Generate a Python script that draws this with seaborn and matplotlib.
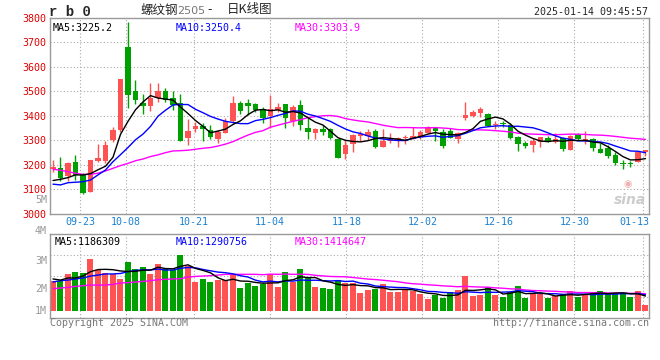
import matplotlib
matplotlib.use("Agg")
import matplotlib.pyplot as plt
import matplotlib.transforms as mtransforms
import numpy as np
import pandas as pd
import seaborn as sns

# daily K data, rb2505, 2024-09-13 .. 2025-01-14 (80 sessions)
open_ = [3181, 3185, 3155, 3212, 3160, 3090, 3215, 3216, 3301, 3342,
         3681, 3501, 3453, 3440, 3471, 3501, 3474, 3451, 3308, 3346,
         3358, 3342, 3305, 3331, 3378, 3453, 3453, 3447, 3428, 3399,
         3423, 3447, 3378, 3444, 3349, 3331, 3344, 3346, 3305, 3242,
         3283, 3317, 3319, 3338, 3274, 3298, 3297, 3310, 3305, 3314,
         3331, 3353, 3332, 3339, 3304, 3389, 3400, 3413, 3407, 3362,
         3372, 3362, 3314, 3290, 3280, 3291, 3310, 3294, 3310, 3260,
         3325, 3301, 3305, 3264, 3267, 3240, 3206, 3208, 3212, 3250]
close = [3192, 3147, 3208, 3158, 3083, 3219, 3227, 3280, 3342, 3551,
         3485, 3464, 3441, 3471, 3501, 3464, 3444, 3298, 3339, 3358,
         3344, 3314, 3332, 3378, 3453, 3419, 3441, 3423, 3392, 3428,
         3437, 3392, 3437, 3362, 3332, 3344, 3335, 3310, 3229, 3280,
         3321, 3325, 3335, 3274, 3298, 3305, 3308, 3312, 3317, 3335,
         3353, 3339, 3278, 3310, 3328, 3403, 3417, 3428, 3359, 3365,
         3366, 3310, 3284, 3278, 3297, 3314, 3298, 3305, 3264, 3319,
         3305, 3305, 3269, 3249, 3237, 3208, 3201, 3201, 3253, 3260]
high = [3219, 3233, 3212, 3240, 3167, 3219, 3284, 3297, 3353, 3551,
        3785, 3546, 3489, 3532, 3532, 3515, 3501, 3489, 3385, 3376,
        3369, 3362, 3342, 3389, 3481, 3462, 3468, 3451, 3437, 3485,
        3451, 3447, 3444, 3464, 3389, 3351, 3362, 3349, 3305, 3301,
        3324, 3338, 3346, 3346, 3346, 3328, 3314, 3321, 3353, 3342,
        3358, 3355, 3346, 3349, 3332, 3455, 3423, 3436, 3412, 3378,
        3378, 3369, 3319, 3297, 3310, 3314, 3319, 3328, 3314, 3321,
        3331, 3338, 3308, 3290, 3280, 3253, 3219, 3216, 3253, 3260]
low = [3171, 3135, 3135, 3137, 3079, 3086, 3212, 3205, 3294, 3335,
       3433, 3447, 3406, 3421, 3455, 3455, 3423, 3298, 3280, 3335,
       3297, 3305, 3287, 3328, 3369, 3406, 3403, 3417, 3369, 3349,
       3414, 3351, 3359, 3342, 3305, 3305, 3321, 3305, 3229, 3223,
       3253, 3298, 3301, 3267, 3274, 3287, 3274, 3283, 3304, 3305,
       3328, 3297, 3267, 3308, 3287, 3383, 3393, 3396, 3358, 3346,
       3355, 3305, 3256, 3269, 3253, 3274, 3291, 3287, 3256, 3260,
       3301, 3283, 3256, 3249, 3229, 3199, 3182, 3189, 3210, 3237]
# volume, million lots
volume = [2.46, 2.46, 3.01, 3.17, 3.11, 4.23, 3.33, 3.11, 3.01, 2.60,
          3.99, 3.42, 3.58, 3.01, 3.83, 3.42, 3.33, 4.56, 3.66, 2.35,
          2.60, 2.35, 2.51, 2.51, 2.92, 1.86, 2.27, 2.02, 2.19, 3.01,
          1.94, 3.17, 2.35, 3.42, 2.68, 1.94, 1.86, 1.78, 2.51, 2.27,
          2.27, 1.45, 1.69, 1.78, 2.19, 1.53, 1.53, 1.69, 1.61, 1.37,
          0.96, 1.28, 1.04, 1.53, 1.69, 2.84, 1.20, 1.28, 1.94, 1.28,
          1.12, 1.53, 2.02, 1.04, 1.37, 1.37, 1.04, 1.20, 1.37, 1.61,
          1.12, 1.37, 1.53, 1.61, 1.37, 1.37, 1.45, 1.12, 1.61, 0.46]

# moving averages before the window fills
ma5_head = [3135, 3140, 3147, 3158]
ma10_head = [3120, 3117, 3126, 3128, 3130, 3137, 3158, 3178, 3212]
ma30_head = [3181, 3177, 3171, 3165, 3160, 3160, 3165, 3174, 3185, 3196,
             3205, 3216, 3223, 3233, 3240, 3249, 3256, 3257, 3259, 3263,
             3267, 3270, 3276, 3284, 3294, 3308, 3321, 3332, 3339]
vma5_head = [2.60, 2.51, 2.68, 2.68]
vma10_head = [2.35, 2.46, 2.51, 2.60, 2.68, 2.84, 2.92, 3.01, 3.01]
vma30_head = [1.80, 1.86, 1.91, 1.99, 2.05, 2.10, 2.10, 2.10, 2.16, 2.27,
              2.30, 2.35, 2.40, 2.46, 2.54, 2.57, 2.60, 2.62, 2.76, 2.81,
              2.84, 2.87, 2.92, 2.98, 2.98, 2.98, 2.98, 2.98, 2.95]

date_labels = ['09-23', '10-08', '10-21', '11-04', '11-18',
               '12-02', '12-16', '12-30', '01-13']
date_index = [4, 10, 19, 29, 39, 49, 59, 69, 78]

RED = '#ff5252'
GREEN = '#00a000'
GRID = '#aaaaaa'
FRAME = '#999999'
MONO = 'DejaVu Sans Mono'
FS = 7.2


def moving_avg(values, n, head):
    "rolling mean, warm-up part taken from the chart"
    s = pd.Series(values, dtype=float).rolling(n).mean()
    s.iloc[:len(head)] = head
    return s


def fx(px):
    return px / 660


def fy(py):
    return 1 - py / 360


def frame(ax):
    for s in ['top', 'bottom', 'left', 'right']:
        ax.spines[s].set_visible(True)
        ax.spines[s].set_color(FRAME)
        ax.spines[s].set_linewidth(1)
    ax.tick_params(length=0)


sns.set_style('white')
plt.rcParams['font.family'] = ['DejaVu Sans', 'Noto Sans CJK SC']

df = pd.DataFrame({'open': open_, 'close': close, 'high': high, 'low': low,
                   'vol': np.array(volume) * 1e6})
df['x'] = np.arange(len(df))
df['up'] = df['close'] >= df['open']
df['color'] = np.where(df['up'], RED, GREEN)
df['ma5'] = moving_avg(close, 5, ma5_head)
df['ma10'] = moving_avg(close, 10, ma10_head)
df['ma30'] = moving_avg(close, 30, ma30_head)
df['vma5'] = moving_avg(volume, 5, vma5_head) * 1e6
df['vma10'] = moving_avg(volume, 10, vma10_head) * 1e6
df['vma30'] = moving_avg(volume, 30, vma30_head) * 1e6

# sina's date grid drifts slightly against the candle spacing
grid_x = [1.0135 * k - 0.42 for k in date_index]
xlim = (-0.4, 79.47)

fig = plt.figure(figsize=(6.6, 3.6), dpi=100)
fig.patch.set_facecolor('white')

# ---- price panel
ax = fig.add_axes([fx(50), fy(213.5), 599 / 660, (213.5 - 18) / 360])
frame(ax)
ax.set_xlim(*xlim)
ax.set_ylim(3000, 3800)
for y in range(3100, 3800, 100):
    ax.axhline(y, color=GRID, lw=0.8, ls=(0, (1, 2)), zorder=0)
for gx in grid_x:
    ax.axvline(gx, color=GRID, lw=0.8, ls=(0, (1, 2)), zorder=0)

ax.vlines(df['x'], df['low'], df['high'], colors=df['color'], lw=1, zorder=2)
body = (df['close'] - df['open']).abs().clip(lower=3)
ax.bar(df['x'], body, bottom=df[['open', 'close']].min(axis=1), width=0.74,
       color=df['color'], linewidth=0, zorder=3)

for col, c in [('ma30', '#ff00ff'), ('ma10', '#0000ff'), ('ma5', '#000000')]:
    sns.lineplot(data=df, x='x', y=col, color=c, lw=1, ax=ax, zorder=4)

ax.set_yticks(range(3000, 3801, 100))
ax.set_yticklabels([str(v) for v in range(3000, 3801, 100)],
                   color='#e00000', family=MONO, fontsize=FS)
ax.tick_params(axis='y', pad=3)
ax.set_xticks([])
ax.set_xlabel('')
ax.set_ylabel('')

ax.text(0.005, 0.972, 'MA5:3225.2', transform=ax.transAxes, color='black',
        family=MONO, fontsize=FS, va='top')
ax.text(0.209, 0.972, 'MA10:3250.4', transform=ax.transAxes, color='#0000ff',
        family=MONO, fontsize=FS, va='top')
ax.text(0.409, 0.972, 'MA30:3303.9', transform=ax.transAxes, color='#ff00ff',
        family=MONO, fontsize=FS, va='top')
# watermark
ax.text(0.995, 0.07, 'sina', transform=ax.transAxes, color='#cccccc',
        fontsize=10, style='italic', weight='bold', ha='right', va='center')
ax.text(0.965, 0.15, '◉', transform=ax.transAxes, color='#f0b0b0',
        fontsize=7, ha='center', va='center')

trans = mtransforms.blended_transform_factory(ax.transData, fig.transFigure)
for gx, lab in zip(grid_x, date_labels):
    ax.text(min(gx, xlim[1] - 2.0), fy(221.7), lab, transform=trans,
            color='#1a80d0', family=MONO, fontsize=FS, ha='center', va='center')

# ---- volume panel
vax = fig.add_axes([fx(50), fy(317.7), 599 / 660, (317.7 - 234.3) / 360])
frame(vax)
vax.set_xlim(*xlim)
vlo, vhi = -0.574e6, 6.26e6
vax.set_ylim(vlo, vhi)
for f in [0.25, 0.5, 0.75]:
    vax.axhline(vlo + f * (vhi - vlo), color=GRID, lw=0.8, ls=(0, (1, 2)), zorder=0)
for gx in grid_x:
    vax.axvline(gx, color=GRID, lw=0.8, ls=(0, (1, 2)), zorder=0)
vax.bar(df['x'], df['vol'], width=0.8, color=df['color'], linewidth=0, zorder=2)
for col, c in [('vma30', '#ff00ff'), ('vma10', '#0000ff'), ('vma5', '#000000')]:
    sns.lineplot(data=df, x='x', y=col, color=c, lw=1, ax=vax, zorder=4)
vax.set_xticks([])
vax.set_yticks([])
vax.set_xlabel('')
vax.set_ylabel('')
vax.text(0.008, 0.965, 'MA5:1186309', transform=vax.transAxes, color='black',
         family=MONO, fontsize=FS, va='top')
vax.text(0.209, 0.965, 'MA10:1290756', transform=vax.transAxes, color='#0000ff',
         family=MONO, fontsize=FS, va='top')
vax.text(0.409, 0.965, 'MA30:1414647', transform=vax.transAxes, color='#ff00ff',
         family=MONO, fontsize=FS, va='top')

# ---- texts around the panels
for lab, py in [('4M', 230.7), ('3M', 261), ('2M', 289), ('1M', 310.5), ('5M', 200)]:
    fig.text(fx(47), fy(py), lab, color='#999999', family=MONO, fontsize=FS,
             ha='right', va='center')

fig.text(fx(49), fy(11.7), 'r b 0', family='Liberation Mono', weight='bold',
         fontsize=10, ha='left', va='center')
fig.text(fx(140), fy(10), '螺纹钢', family='Noto Sans CJK SC', fontsize=9,
         ha='left', va='center')
fig.text(fx(177), fy(10.5), '2505', family='DejaVu Sans', color='#777777',
         fontsize=8, ha='left', va='center')
fig.text(fx(207), fy(10), '-', family='DejaVu Sans', fontsize=9,
         ha='left', va='center')
fig.text(fx(227), fy(10), '日K线图', family='Noto Sans CJK SC', fontsize=9,
         ha='left', va='center')
fig.text(fx(648), fy(11.7), '2025-01-14 09:45:57', family=MONO, fontsize=FS,
         ha='right', va='center')
fig.text(fx(50), fy(323.5), 'Copyright 2025 SINA.COM', family=MONO,
         color='#777777', fontsize=FS, ha='left', va='center')
fig.text(fx(649), fy(323.5), 'http://finance.sina.com.cn', family=MONO,
         color='#777777', fontsize=FS, ha='right', va='center')

fig.savefig('out.png', dpi=100, facecolor='white')
